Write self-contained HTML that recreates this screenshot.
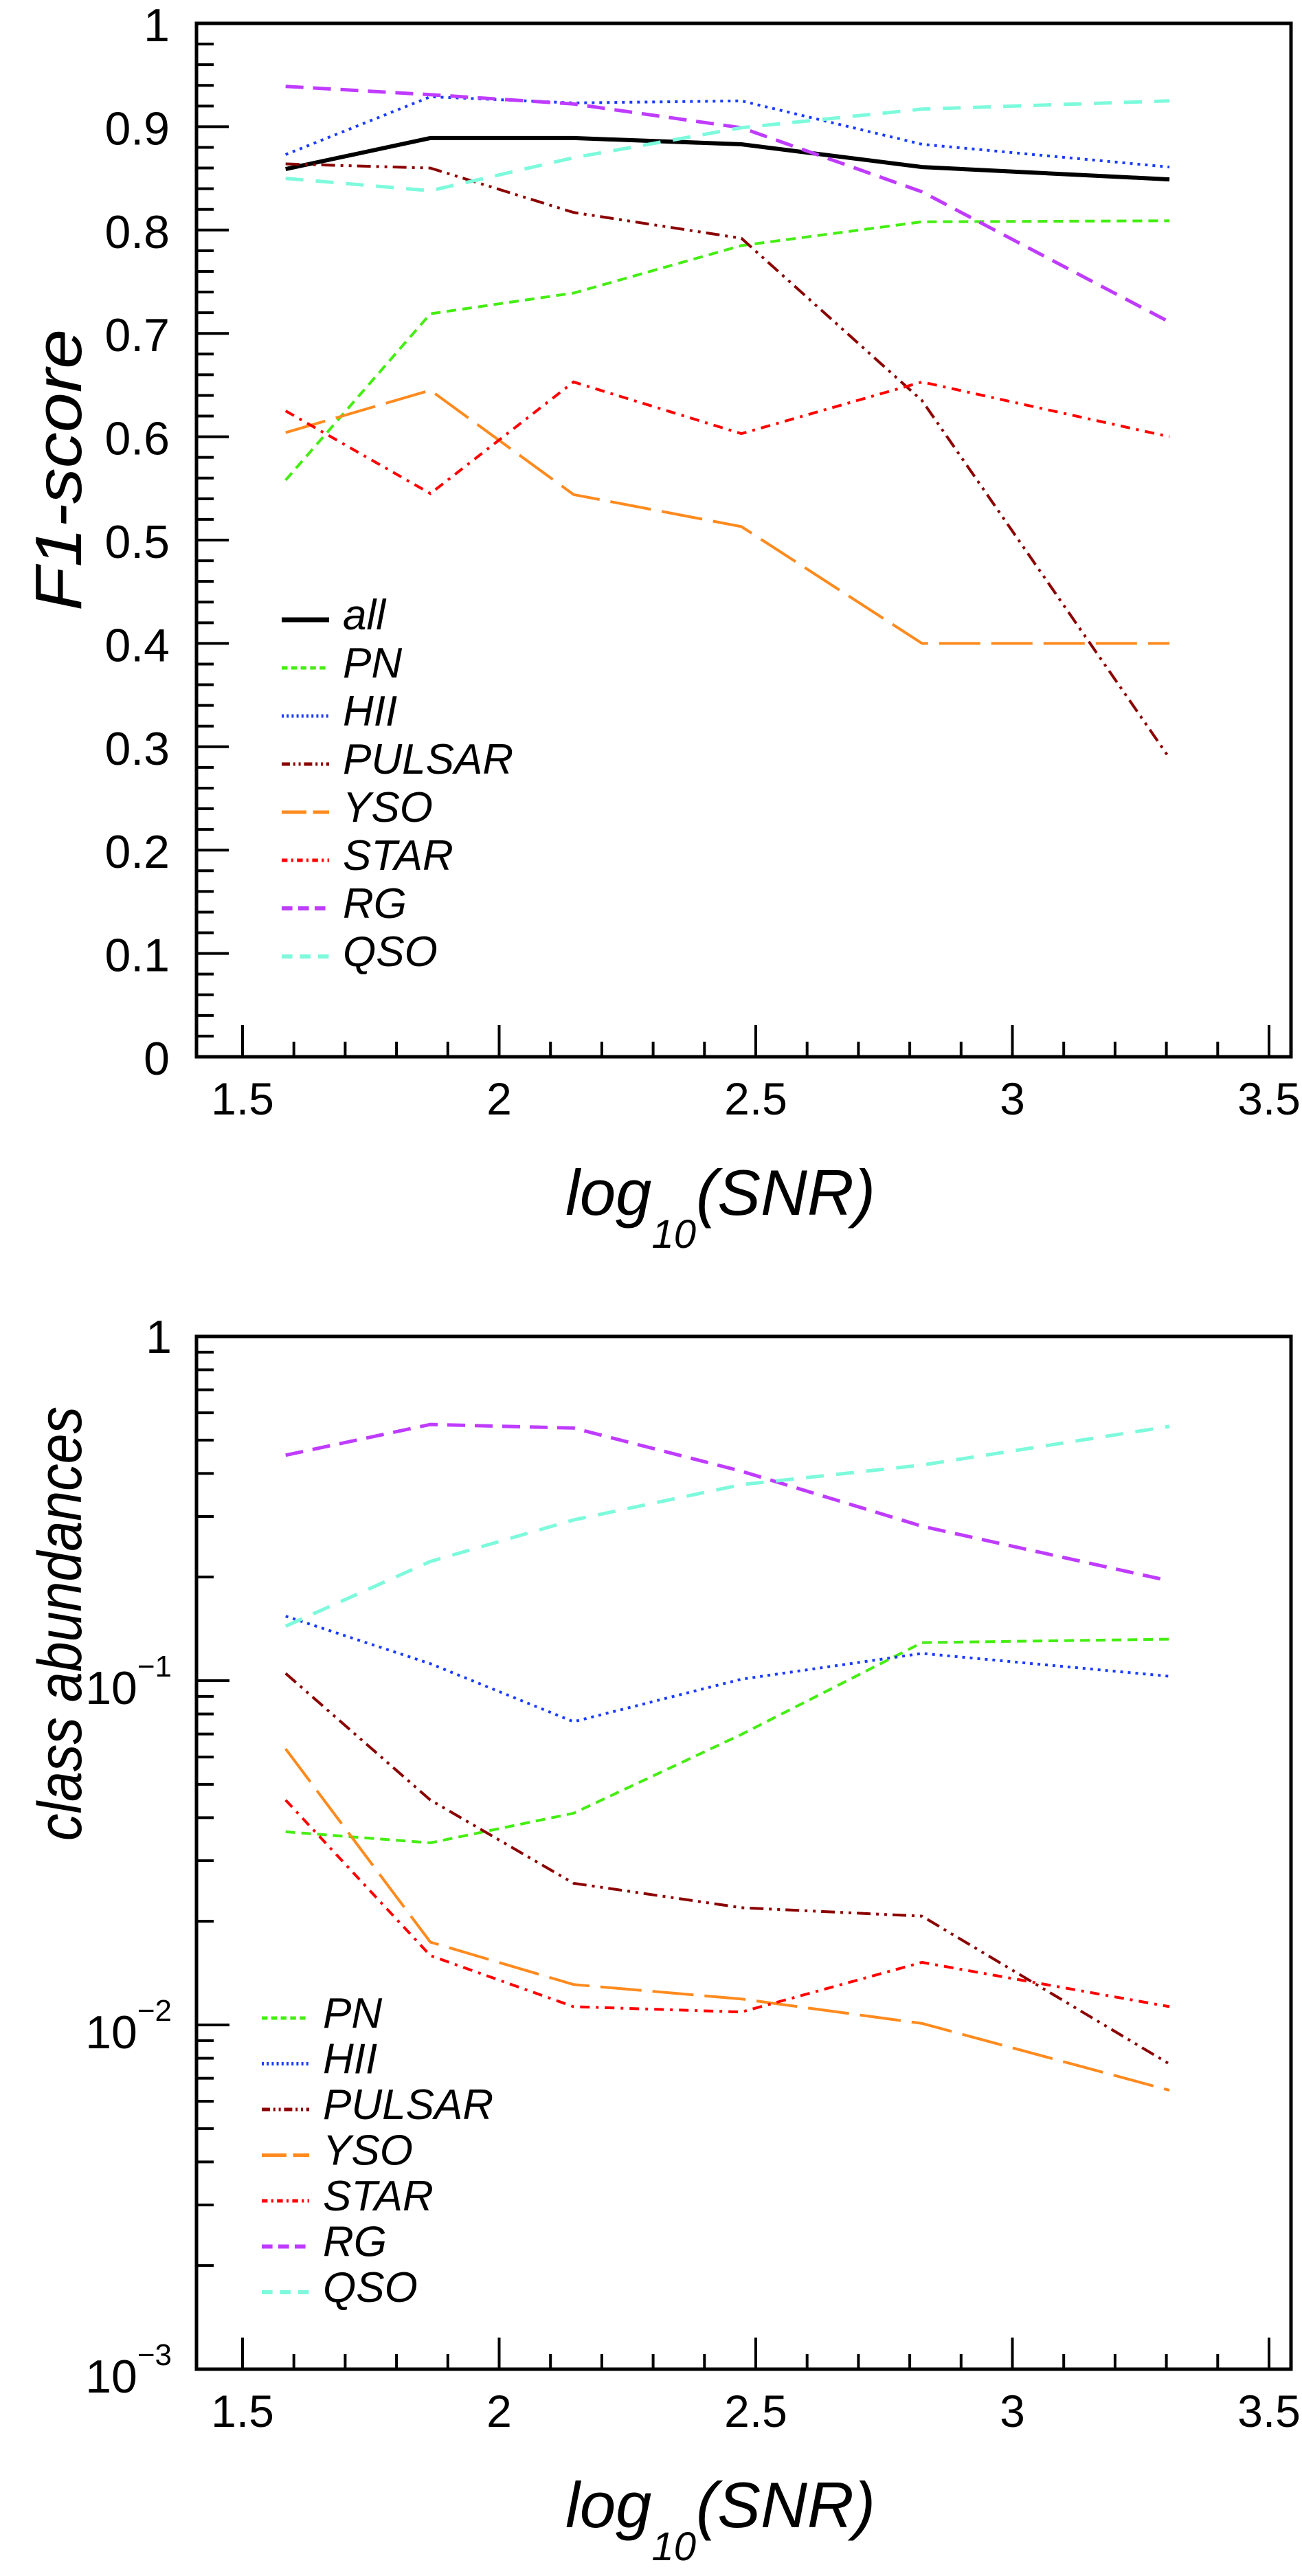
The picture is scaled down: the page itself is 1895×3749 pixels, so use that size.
<!DOCTYPE html>
<html><head><meta charset="utf-8"><style>
html,body{margin:0;padding:0;background:#fff}
svg{display:block}
text{font-family:"Liberation Sans",sans-serif;fill:#000}
.it{font-style:italic}
</style></head><body>
<svg id="fig" width="1895" height="3749" viewBox="0 0 1895 3749" xmlns="http://www.w3.org/2000/svg">
<rect width="1895" height="3749" fill="#fff"/>
<g id="top"></g>
<g id="bot"></g>
</svg>
<script>
const xs = [1.584, 1.866, 2.145, 2.472, 2.824, 3.306];
const classNames = ['all','PN','HII','PULSAR','YSO','STAR','RG','QSO'];
const f1All    = [0.859, 0.889, 0.889, 0.883, 0.861, 0.849];
const f1PN     = [0.558, 0.719, 0.739, 0.785, 0.808, 0.809];
const f1HII    = [0.873, 0.929, 0.923, 0.925, 0.883, 0.861];
const f1PULSAR = [0.864, 0.860, 0.817, 0.792, 0.635, 0.289];
const f1YSO    = [0.604, 0.645, 0.544, 0.513, 0.400, 0.400];
const f1STAR   = [0.625, 0.545, 0.653, 0.603, 0.653, 0.600];
const f1RG     = [0.939, 0.931, 0.922, 0.899, 0.837, 0.711];
const f1QSO    = [0.850, 0.838, 0.870, 0.899, 0.917, 0.925];
const abPN     = [0.0364, 0.0338, 0.0412, 0.0698, 0.129, 0.132];
const abHII    = [0.154, 0.112, 0.076, 0.101, 0.120, 0.103];
const abPULSAR = [0.105, 0.045, 0.0258, 0.0219, 0.0207, 0.0077];
const abYSO    = [0.0634, 0.0174, 0.0131, 0.0119, 0.0101, 0.00646];
const abSTAR   = [0.045, 0.0159, 0.0113, 0.0109, 0.0152, 0.0113];
const abRG     = [0.452, 0.555, 0.542, 0.406, 0.281, 0.195];
const abQSO    = [0.144, 0.222, 0.293, 0.371, 0.423, 0.548];
const xTickLabels = ['1.5','2','2.5','3','3.5'];
const f1TickLabels = ['0','0.1','0.2','0.3','0.4','0.5','0.6','0.7','0.8','0.9','1'];

const NS='http://www.w3.org/2000/svg';
const styles = {
  all:{c:'#000',w:6,d:''},
  PN:{c:'#44ee11',w:4,d:'14 9'},
  HII:{c:'#1a3cff',w:4,d:'4 7'},
  PULSAR:{c:'#8b0000',w:4,d:'20 8 4 8 4 8'},
  YSO:{c:'#ff8a1e',w:4,d:'60 16'},
  STAR:{c:'#ff0000',w:4,d:'14 9 4 9'},
  RG:{c:'#bf3cff',w:5,d:'26 14'},
  QSO:{c:'#7dfadc',w:5,d:'26 18'}
};
function mk(parent,tag,attrs,txt){const e=document.createElementNS(NS,tag);for(const k in attrs)e.setAttribute(k,attrs[k]);if(txt!==undefined)e.textContent=txt;parent.appendChild(e);return e;}

const L=286,R=1879;
const xScale = v => 353 + (v-1.5)*747;

// ---------- TOP ----------
const T=document.getElementById('top');
const tTop=34,tBot=1538;
const yTop = v => tBot - v*(tBot-tTop);
function ticksX(g,bottom){
  for(let i=0;i<=20;i++){const v=1.5+i*0.1;const x=xScale(v);if(x>R)break;const major=i%5===0;
    const t=mk(g,'line',{x1:x,x2:x,y1:bottom,y2:bottom-(major?46:22),stroke:'#000','stroke-width':4});
    
    }
  xTickLabels.forEach(s=>{const t=mk(g,'text',{x:xScale(parseFloat(s)),y:bottom+84,'font-size':66,'text-anchor':'middle'},s);
    
    });
}
function frame(g,top,bottom){
  const f=mk(g,'rect',{x:L,y:top,width:R-L,height:bottom-top,fill:'none',stroke:'#000','stroke-width':5});
  
  
}
function xTitle(g,base){
  const t=mk(g,'text',{x:823,y:base,'font-size':94,class:'it'});
  
  
  mk(t,'tspan',{},'log');
  mk(t,'tspan',{dy:48,'font-size':58},'10');
  mk(t,'tspan',{dy:-48},'(SNR)');
}
function series(g,name,vals,yf){
  const s=styles[name];
  const pts=vals.map((v,i)=>xScale(xs[i]).toFixed(1)+','+yf(v).toFixed(1)).join(' ');
  const p=mk(g,'polyline',{points:pts,fill:'none',stroke:s.c,'stroke-width':s.w,'stroke-dasharray':s.d,'stroke-linejoin':'miter'});
  
  
}
function legend(g,names,x0,y0,dy,fs){
  names.forEach((n,i)=>{const s=styles[n];const y=y0+i*dy;
    const ln=mk(g,'line',{x1:x0,x2:x0+69,y1:y,y2:y,stroke:s.c,'stroke-width':s.w+1,'stroke-dasharray':s.d?s.d.split(' ').map(v=>Math.max(3,v*0.6)).join(' '):''});
    
    
    const t=mk(g,'text',{x:x0+89,y:y+14,'font-size':62,class:'it'},n);
    
    });
}

for(let i=0;i<=50;i++){const v=i*0.02;const y=yTop(v);const major=i%5===0;
  const t=mk(T,'line',{x1:L,x2:L+(major?47:25),y1:y,y2:y,stroke:'#000','stroke-width':4});
  
  }
f1TickLabels.forEach(s=>{const t=mk(T,'text',{x:247,y:yTop(parseFloat(s))+26,'font-size':68,'text-anchor':'end'},s);
  
  });
ticksX(T,tBot);
const topSeries=[f1All,f1PN,f1HII,f1PULSAR,f1YSO,f1STAR,f1RG,f1QSO];
classNames.forEach((n,i)=>series(T,n,topSeries[i],yTop));
frame(T,tTop,tBot);
legend(T,classNames,410,902,70,62);
const yt1=mk(T,'text',{x:0,y:0,'font-size':96,class:'it','text-anchor':'middle',transform:'translate(118,684) rotate(-90)',textLength:410,lengthAdjust:'spacingAndGlyphs'},'F1-score');


xTitle(T,1768);

// ---------- BOTTOM ----------
const B=document.getElementById('bot');
const bTop=1945,bBot=3448,dec=501;
const yBot = v => bTop - Math.log10(v)*dec;
for(let e=-3;e<0;e++){for(let m=2;m<=9;m++){const y=yBot(m*Math.pow(10,e));
  const t=mk(B,'line',{x1:L,x2:L+25,y1:y,y2:y,stroke:'#000','stroke-width':4});
  
  }}
[-2,-1].forEach(e=>{const y=yBot(Math.pow(10,e));
  const t=mk(B,'line',{x1:L,x2:L+48,y1:y,y2:y,stroke:'#000','stroke-width':4});
  
  });
const one=mk(B,'text',{x:250,y:1969,'font-size':68,'text-anchor':'end'},'1');


[-1,-2,-3].forEach(e=>{const y=yBot(Math.pow(10,e));
  const t=mk(B,'text',{x:250,y:y+34,'font-size':68,'text-anchor':'end'});
  
  
  mk(t,'tspan',{},'10');mk(t,'tspan',{dy:-40,'font-size':44},'\u2212'+(-e));});
ticksX(B,bBot);
const botNames=['PN','HII','PULSAR','YSO','STAR','RG','QSO'];
const botSeries=[abPN,abHII,abPULSAR,abYSO,abSTAR,abRG,abQSO];
botNames.forEach((n,i)=>series(B,n,botSeries[i],yBot));
frame(B,bTop,bBot);
legend(B,botNames,381,2937,66.5,61);
const yt2=mk(B,'text',{x:0,y:0,'font-size':90,class:'it','text-anchor':'middle',transform:'translate(118,2363) rotate(-90)',textLength:632,lengthAdjust:'spacingAndGlyphs'},'class abundances');


xTitle(B,3678);
</script>
</body></html>
